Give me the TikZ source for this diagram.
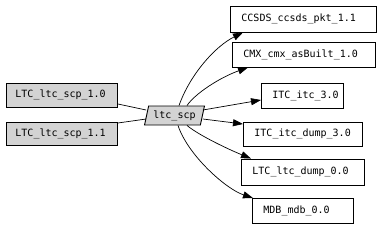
\documentclass[tikz,border=0pt]{standalone}
\usepackage{fontspec}
\setmonofont{DejaVu Sans Mono}
\usetikzlibrary{arrows.meta,shapes.geometric}
\definecolor{boxgray}{HTML}{D3D3D3}
\begin{document}
\begin{tikzpicture}[x=1pt,y=-1pt,
  every node/.style={font=\ttfamily\fontsize{10}{12}\selectfont},
  pkg/.style={draw=black, line width=0.9pt, rectangle, align=left, inner xsep=11pt, inner ysep=0pt, anchor=west},
  src/.style={pkg, fill=boxgray, inner xsep=9pt},
  para/.style={trapezium, trapezium left angle=70, trapezium right angle=110, trapezium stretches=true,
    draw=black, line width=0.9pt, fill=boxgray, minimum height=19pt, minimum width=60pt, inner xsep=2pt, inner ysep=0pt},
  dep/.style={draw=black, line width=0.7pt, -{Triangle[length=10pt,width=7pt]}},
  use/.style={draw=black, line width=0.7pt}]
\useasboundingbox (0,0) rectangle (381,228);
% source packages
\node[src, text width=93pt, minimum height=24pt] (l1) at (6,95) {LTC\_ltc\_scp\_1.0};
\node[src, text width=93pt, minimum height=23pt] (l2) at (6,133.5) {LTC\_ltc\_scp\_1.1};
% central
\node[para] (ltc) at (174.5,115.5) {ltc\_scp};
% targets
\node[pkg, text width=124pt, minimum height=26pt] (ccsds) at (230,19) {CCSDS\_ccsds\_pkt\_1.1};
\node[pkg, text width=121pt, minimum height=25pt] (cmx) at (232,54.5) {CMX\_cmx\_asBuilt\_1.0};
\node[pkg, text width=60pt, minimum height=25pt] (itc) at (261,95.5) {ITC\_itc\_3.0};
\node[pkg, text width=97pt, minimum height=24pt] (itcd) at (243,134) {ITC\_itc\_dump\_3.0};
\node[pkg, text width=101pt, minimum height=26pt] (ltcd) at (241,172) {LTC\_ltc\_dump\_0.0};
\node[pkg, text width=79pt, minimum height=25pt] (mdb) at (252,211) {MDB\_mdb\_0.0};
% connectors
\draw[use] ([yshift=-9pt]l1.east) -- ([yshift=5.5pt]ltc.west);
\draw[use] ([yshift=10.5pt]l2.east) -- ([yshift=-3.5pt]ltc.west);
\draw[dep] ([xshift=4.5pt]ltc.north) .. controls +(11,-31) and +(-28,14) .. ([xshift=13pt]ccsds.south west);
\draw[dep] ([xshift=12.5pt]ltc.north) .. controls +(8,-12) and +(-28,10) .. ([xshift=16pt]cmx.south west);
\draw[dep] ([yshift=5.5pt]ltc.east) -- ([yshift=-4.5pt]itc.west);
\draw[dep] ([yshift=-3.5pt]ltc.east) -- ([yshift=10pt]itcd.west);
\draw[dep] ([xshift=12.5pt]ltc.south) .. controls +(12,10) and +(-22,-9) .. ([xshift=10pt]ltcd.north west);
\draw[dep] ([xshift=3.5pt]ltc.south) .. controls +(10,30) and +(-27,-9) .. ([xshift=1pt]mdb.north west);
\end{tikzpicture}
\end{document}
